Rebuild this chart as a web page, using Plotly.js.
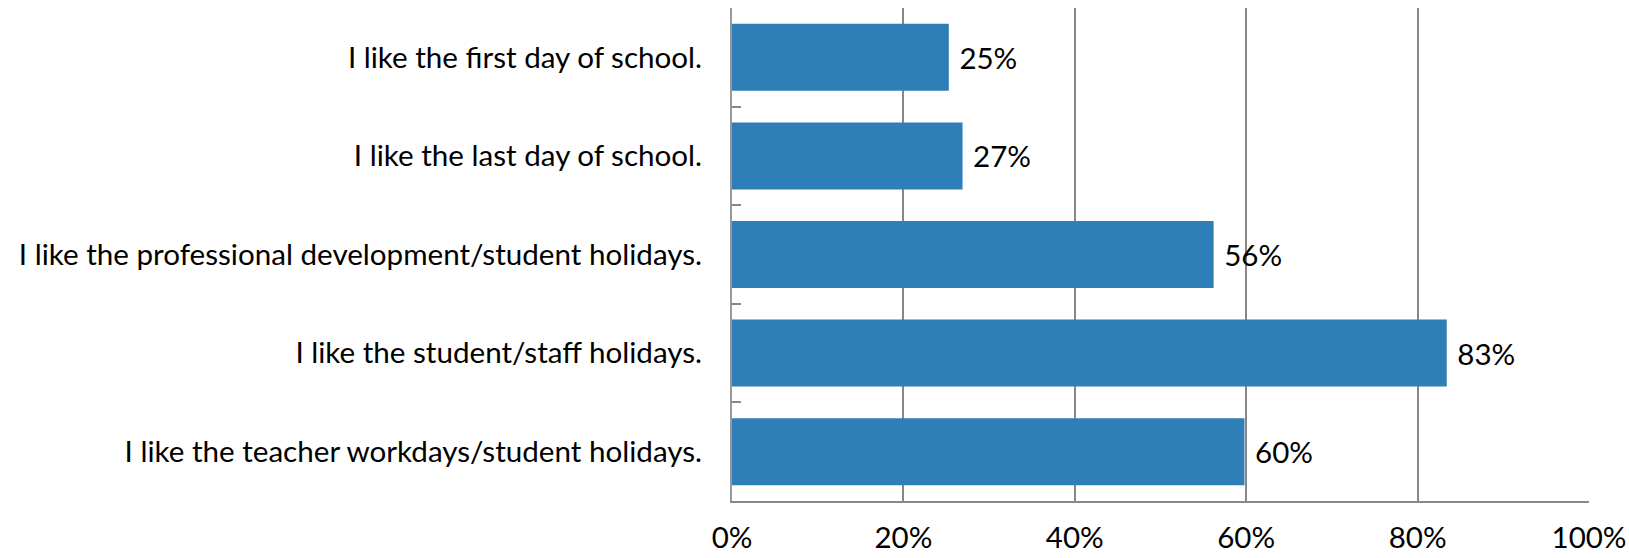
<!DOCTYPE html>
<html>
<head>
<meta charset="utf-8">
<script src="https://cdn.plot.ly/plotly-3.0.1.min.js"></script>
<style>html,body{margin:0;padding:0;background:#fff;}#chart{width:1629px;height:558px;}</style>
</head>
<body>
<div id="chart"></div>
<script>
const categories = [
  "I like the first day of school.",
  "I like the last day of school.",
  "I like the professional development/student holidays.",
  "I like the student/staff holidays.",
  "I like the teacher workdays/student holidays."
];
const values = [0.253, 0.269, 0.562, 0.834, 0.598];
const xTickValues = [0, 0.2, 0.4, 0.6, 0.8, 1.0];

const FONT = "Lato, 'Open Sans', sans-serif";
const GRID = "#878787";

const trace = {
  type: "bar",
  orientation: "h",
  y: categories,
  x: values,
  marker: {color: "#2e7eb8"},
  texttemplate: " %{x:.0%}",
  textposition: "outside",
  textfont: {family: FONT, size: 29.5, color: "#000"},
  cliponaxis: false,
  hoverinfo: "none"
};

const layout = {
  width: 1629,
  height: 558,
  margin: {l: 732, r: 40, t: 8, b: 57},
  paper_bgcolor: "#fff",
  plot_bgcolor: "#fff",
  bargap: 0.32,
  showlegend: false,
  font: {family: FONT, size: 29.5, color: "#000"},
  xaxis: {
    range: [0, 1],
    tickvals: xTickValues,
    tickformat: ".0%",
    showgrid: true,
    gridcolor: GRID,
    gridwidth: 2,
    zeroline: false,
    showline: true,
    linecolor: GRID,
    linewidth: 2,
    ticks: "",
    ticklabelstandoff: 10,
    tickfont: {family: FONT, size: 29.5, color: "#000"},
    fixedrange: true
  },
  yaxis: {
    autorange: "reversed",
    showgrid: false,
    zeroline: false,
    showline: true,
    linecolor: "#999999",
    linewidth: 2,
    ticks: "inside",
    tickson: "boundaries",
    ticklen: 9,
    tickwidth: 2,
    tickcolor: GRID,
    ticklabelstandoff: 22,
    tickfont: {family: FONT, size: 29.6, color: "#000"},
    fixedrange: true
  }
};

Plotly.newPlot("chart", [trace], layout, {displayModeBar: false, staticPlot: true});
</script>
</body>
</html>
